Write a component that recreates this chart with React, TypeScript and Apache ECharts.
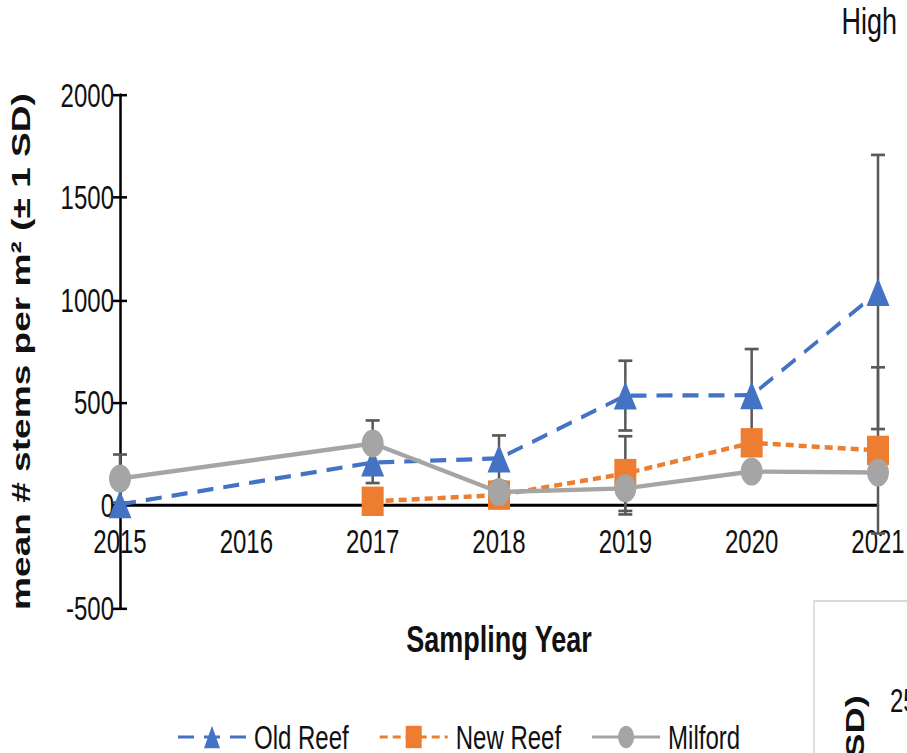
import React, { useEffect, useRef } from "react";
import * as echarts from "echarts";

const seriesNames = ["Old Reef", "New Reef", "Milford"];

const oldReefYears = [2015, 2017, 2018, 2019, 2020, 2021];
const oldReefMean = [5, 209, 229, 535, 537, 1040];
const oldReefSD = [0, 100, 112, 170, 225, 668];

const newReefYears = [2017, 2018, 2019, 2020, 2021];
const newReefMean = [20, 50, 155, 305, 268];
const newReefSD = [0, 0, 182, 0, 405];

const milfordYears = [2015, 2017, 2018, 2019, 2020, 2021];
const milfordMean = [131, 302, 65, 83, 165, 160];
const milfordSD = [117, 112, 0, 127, 0, 0];

const yTicks = { min: -500, max: 2000, interval: 500 };
const xTicks = { min: 2015, max: 2021, interval: 1 };

const FONT = "'Liberation Sans', Arial, sans-serif";

// The reference picture is vertically stretched; draw at a lower height and stretch with CSS.
const W = 907;
const H = 538;
const S = 753 / H;

function pairs(xs: number[], ys: number[]) {
  return xs.map((x, i) => [x, ys[i]]);
}
function errData(xs: number[], ys: number[], sd: number[]) {
  return xs
    .map((x, i) => [x, ys[i] - sd[i], ys[i] + sd[i], sd[i]])
    .filter((d) => d[3] > 0);
}

export default function App() {
  const ref = useRef<HTMLDivElement>(null);
  useEffect(() => {
    if (!ref.current) return;
    document.body.style.margin = "0";
    document.body.style.overflow = "hidden";
    const chart = echarts.init(ref.current, undefined, { renderer: "svg" });

    const gridTop = 95 / S;
    const gridBottom = (753 - 608) / S;
    const gridH = H - gridTop - gridBottom;
    const zeroY = gridTop + ((yTicks.max - 0) / (yTicks.max - yTicks.min)) * gridH;
    const xOffset = -(H - gridBottom - zeroY);

    const errRender = (params: any, api: any) => {
      const x = api.value(0);
      const lo = api.coord([x, api.value(1)]);
      const hi = api.coord([x, api.value(2)]);
      const cap = 7;
      const style = { stroke: "#595959", lineWidth: 2.5 };
      const capStyle = { stroke: "#595959", lineWidth: 1.9 };
      return {
        type: "group",
        children: [
          { type: "line", shape: { x1: lo[0], y1: lo[1], x2: hi[0], y2: hi[1] }, style },
          { type: "line", shape: { x1: hi[0] - cap, y1: hi[1], x2: hi[0] + cap, y2: hi[1] }, style: capStyle },
          { type: "line", shape: { x1: lo[0] - cap, y1: lo[1], x2: lo[0] + cap, y2: lo[1] }, style: capStyle },
        ],
      };
    };

    const labelStyle = { fontFamily: FONT, fontSize: 24, color: "#111" };

    chart.setOption({
      animation: false,
      textStyle: { fontFamily: FONT },
      grid: {
        left: 120,
        right: 29,
        top: gridTop,
        bottom: gridBottom,
        containLabel: false,
        outerBoundsMode: "none",
      },
      xAxis: {
        type: "value",
        min: xTicks.min,
        max: xTicks.max,
        interval: xTicks.interval,
        offset: xOffset,
        axisLine: { show: true, onZero: false, lineStyle: { color: "#000", width: 2.2 } },
        axisTick: { show: false },
        splitLine: { show: false },
        axisLabel: { ...labelStyle, margin: 14, formatter: (v: number) => String(v) },
        name: "Sampling Year",
        nameLocation: "middle",
        nameGap: 82,
        nameTextStyle: { fontFamily: FONT, fontSize: 27, fontWeight: "bold", color: "#111", verticalAlign: "top" },
      },
      yAxis: [
        {
          type: "value",
          min: yTicks.min,
          max: yTicks.max,
          interval: yTicks.interval,
          axisLine: { show: true, onZero: false, lineStyle: { color: "#000", width: 2.5 } },
          axisTick: { show: true, length: 7, lineStyle: { color: "#000", width: 1.8 } },
          splitLine: { show: false },
          axisLabel: { ...labelStyle, margin: 6, formatter: (v: number) => String(v) },
          name: "mean # stems per m² (± 1 SD)",
          nameLocation: "middle",
          nameGap: 86,
          nameRotate: 90,
          nameTextStyle: { fontFamily: FONT, fontSize: 26.5, fontWeight: "bold", color: "#111" },
        },
        {
          type: "value",
          min: yTicks.min,
          max: yTicks.max,
          interval: yTicks.interval,
          position: "left",
          axisLine: { show: false, onZero: false },
          axisTick: { show: true, inside: true, length: 7, lineStyle: { color: "#000", width: 1.8 } },
          splitLine: { show: false },
          axisLabel: { show: false },
        },
      ],
      legend: {
        data: seriesNames,
        left: 172,
        top: 737 / S - 17,
        itemWidth: 68,
        itemHeight: 20,
        itemGap: 30,
        textStyle: { fontFamily: FONT, fontSize: 24, color: "#111", padding: [0, 0, 0, 3] },
      },
      series: [
        { type: "custom", name: "err-old", renderItem: errRender, data: errData(oldReefYears, oldReefMean, oldReefSD), z: 1, silent: true },
        { type: "custom", name: "err-new", renderItem: errRender, data: errData(newReefYears, newReefMean, newReefSD), z: 1, silent: true },
        { type: "custom", name: "err-mil", renderItem: errRender, data: errData(milfordYears, milfordMean, milfordSD), z: 1, silent: true },
        {
          type: "line",
          name: seriesNames[0],
          data: pairs(oldReefYears, oldReefMean),
          symbol: "triangle",
          symbolSize: [23, 20],
          color: "#4472C4",
          itemStyle: { color: "#4472C4" },
          lineStyle: { color: "#4472C4", width: 3, type: [16, 10] },
          z: 3,
        },
        {
          type: "line",
          name: seriesNames[1],
          data: pairs(newReefYears, newReefMean),
          symbol: "rect",
          symbolSize: [22, 21],
          color: "#ED7D31",
          itemStyle: { color: "#ED7D31" },
          lineStyle: { color: "#ED7D31", width: 3.2, type: [8, 5] },
          z: 4,
        },
        {
          type: "line",
          name: seriesNames[2],
          data: pairs(milfordYears, milfordMean),
          symbol: "circle",
          symbolSize: [22, 20],
          color: "#A5A5A5",
          itemStyle: { color: "#A5A5A5" },
          lineStyle: { color: "#A5A5A5", width: 3.2 },
          z: 5,
        },
      ],
      graphic: [
        {
          type: "text",
          right: 10,
          top: 1,
          style: { text: "High", fontFamily: FONT, fontSize: 27, fill: "#111" },
        },
        {
          type: "rect",
          shape: { x: 814, y: 601 / S, width: 120, height: 200 },
          style: { fill: "#fff", stroke: "#d9d9d9", lineWidth: 1.6 },
        },
        {
          type: "text",
          x: 855,
          y: 695 / S,
          rotation: Math.PI / 2,
          style: { text: "(± 1 SD)", fontFamily: FONT, fontSize: 26, fontWeight: "bold", fill: "#111", align: "right", verticalAlign: "middle" },
        },
        {
          type: "text",
          x: 890,
          y: 684 / S,
          style: { text: "2500", fontFamily: FONT, fontSize: 24, fill: "#111" },
        },
      ],
    });

    return () => chart.dispose();
  }, []);

  return (
    <div
      ref={ref}
      style={{
        width: W,
        height: H,
        position: "absolute",
        left: 0,
        top: 0,
        transform: `scaleY(${S})`,
        transformOrigin: "0 0",
      }}
    />
  );
}
